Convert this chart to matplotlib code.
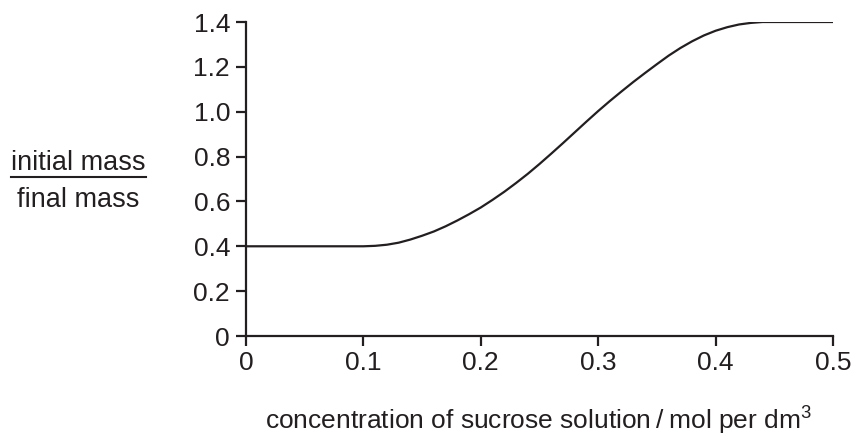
import matplotlib.pyplot as plt
from matplotlib.lines import Line2D

plt.rcParams['font.family'] = ['Liberation Sans', 'DejaVu Sans']
plt.rcParams['mathtext.fontset'] = 'custom'
plt.rcParams['mathtext.rm'] = 'Liberation Sans'

# values
conc = [0.0, 0.10, 0.11, 0.12, 0.13, 0.14, 0.15, 0.16, 0.17, 0.18, 0.19,
        0.20, 0.21, 0.22, 0.23, 0.24, 0.25, 0.26, 0.27, 0.28, 0.29,
        0.30, 0.31, 0.32, 0.33, 0.34, 0.35, 0.36, 0.37, 0.38, 0.39,
        0.40, 0.41, 0.42, 0.43, 0.44, 0.50]
ratio = [0.400, 0.400, 0.402, 0.407, 0.416, 0.430, 0.447, 0.466, 0.489, 0.515, 0.543,
         0.573, 0.607, 0.643, 0.682, 0.723, 0.767, 0.813, 0.860, 0.908, 0.956,
         1.003, 1.048, 1.091, 1.133, 1.173, 1.212, 1.250, 1.284, 1.314, 1.340,
         1.361, 1.377, 1.389, 1.396, 1.400, 1.400]

x_ticks = [0, 0.1, 0.2, 0.3, 0.4, 0.5]
x_labels = ['0', '0.1', '0.2', '0.3', '0.4', '0.5']
y_ticks = [0, 0.2, 0.4, 0.6, 0.8, 1.0, 1.2, 1.4]
y_labels = ['0', '0.2', '0.4', '0.6', '0.8', '1.0', '1.2', '1.4']

ink = '#231f20'
W, H = 855, 437

fig = plt.figure(figsize=(8.55, 4.37), dpi=100)
ax = fig.add_axes([246 / W, 1 - 336 / H, 587 / W, 314 / H])

ax.plot(conc, ratio, color=ink, lw=1.6)
ax.set_xlim(0, 0.5)
ax.set_ylim(0, 1.4)
ax.set_xticks(x_ticks, x_labels)
ax.set_yticks(y_ticks, y_labels)

for s in ['top', 'right']:
    ax.spines[s].set_visible(False)
for s in ['left', 'bottom']:
    ax.spines[s].set_linewidth(1.6)
    ax.spines[s].set_color(ink)
ax.tick_params(direction='out', length=7.5, width=1.6, color=ink,
               labelsize=19, labelcolor=ink)
ax.tick_params(axis='x', pad=3)
ax.tick_params(axis='y', pad=4)

# y label as a fraction
fig.text(78.5 / W, 1 - 170 / H, 'initial mass', ha='center', va='baseline',
         fontsize=19.5, color=ink)
fig.text(78.5 / W, 1 - 207 / H, 'final mass', ha='center', va='baseline',
         fontsize=19.5, color=ink)
fig.add_artist(Line2D([11 / W, 146 / W], [1 - 177 / H, 1 - 177 / H],
                      color=ink, lw=1.5))

fig.text(539 / W, 1 - 429 / H,
         'concentration of sucrose solution\u2009/\u2009mol per dm$^{\\mathregular{3}}$',
         ha='center', va='baseline', fontsize=19, color=ink)

fig.savefig('out.png', dpi=100)
